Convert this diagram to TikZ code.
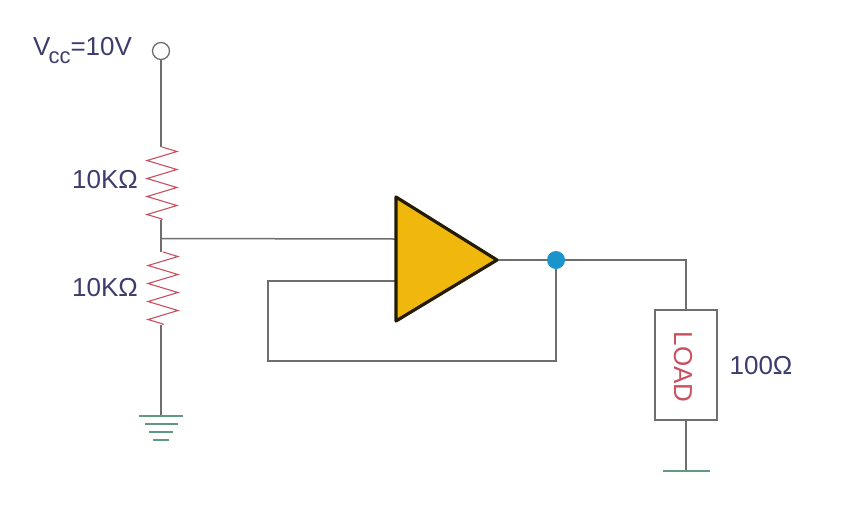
\documentclass[tikz,border=0pt]{standalone}
\usepackage{fontspec}
\setmainfont{Liberation Sans}
\usepackage{xcolor}
\usetikzlibrary{decorations.pathmorphing}
\definecolor{wirecol}{HTML}{6E6E6E}
\definecolor{labelcol}{HTML}{3C3C6E}
\definecolor{rescol}{HTML}{C8505F}
\definecolor{gndcol}{HTML}{5F9A80}
\definecolor{ampcol}{HTML}{F0B80C}
\definecolor{dotcol}{HTML}{1A95CC}
\begin{document}
\begin{tikzpicture}[
        x=1pt, y=-1pt,
        wire/.style={draw=wirecol, line width=1.5pt},
        res/.style={draw=rescol, line width=1.1pt, decorate, decoration={zigzag, segment length=18pt, amplitude=15pt}},
        gnd/.style={draw=gndcol, line width=1.3pt},
        lbl/.style={text=labelcol, font=\fontsize{26}{30}\selectfont, inner sep=0pt}
    ]
        \useasboundingbox (0,0) rectangle (850,520);

        % Supply
        \node[draw=wirecol, circle, minimum size=17pt, inner sep=0pt, line width=1.3pt] (vcc) at (161,51) {};
        \node[lbl, anchor=base west] (vcclabel) at (33,55) {V\kern-2pt\raisebox{-8pt}{\fontsize{22}{26}\selectfont cc}=10V};

        % Divider
        \coordinate (r1top) at (162,147);
        \coordinate (r1bot) at (162,220);
        \coordinate (mid) at (161,238.5);
        \coordinate (r2top) at (163,252);
        \coordinate (r2bot) at (163,325);
        \coordinate (gndtop) at (161,416);
        \draw[wire] (vcc) -- (161,147);
        \draw[res] (r1top) -- (r1bot);
        \draw[wire] (161,220) -- (mid) -- (161,252);
        \draw[res] (r2top) -- (r2bot);
        \draw[wire] (161,325) -- (gndtop);
        \node[lbl] (r1label) at (105,180) {10KΩ};
        \node[lbl] (r2label) at (105,288) {10KΩ};

        % Ground
        \draw[gnd] (139,416) -- (183,416);
        \draw[gnd] (145,424) -- (178,424);
        \draw[gnd] (149,432) -- (173,432);
        \draw[gnd] (153,440) -- (169,440);

        % Amplifier
        \coordinate (ampa) at (396,197);
        \coordinate (ampb) at (396,321);
        \coordinate (ampout) at (497,260);
        \coordinate (plus) at (396,239);
        \coordinate (minus) at (396,281);
        \coordinate (fbtop) at (268,281);
        \coordinate (fbbot) at (268,361);
        \coordinate (fbright) at (556,361);
        \node[circle, fill=dotcol, minimum size=18pt, inner sep=0pt] (dot) at (556,260) {};
        \draw[wire] (mid) -- (plus);
        \draw[wire] (minus) -- (fbtop) -- (fbbot) -- (fbright) -- (dot);
        \draw[wire] (ampout) -- (dot);
        \draw[fill=ampcol, draw=black!85!ampcol, line width=3.2pt, line join=round] (ampa) -- (ampout) -- (ampb) -- cycle;

        % Load
        \node[draw=wirecol, line width=1.9pt, fill=white, minimum width=62pt, minimum height=110pt, inner sep=0pt] (load) at (686,365) {};
        \node[rotate=-90, text=rescol, font=\fontsize{26}{30}\selectfont, inner sep=0pt] (loadtext) at (683,367) {LOAD};
        \node[lbl] (loadlabel) at (761,366) {100Ω};
        \coordinate (loadcorner) at (686,260);
        \coordinate (loadgnd) at (686,471);
        \draw[wire] (dot) -- (loadcorner) -- (load);
        \draw[wire] (load) -- (loadgnd);
        \draw[gnd] (663,471) -- (710,471);
\end{tikzpicture}
\end{document}
